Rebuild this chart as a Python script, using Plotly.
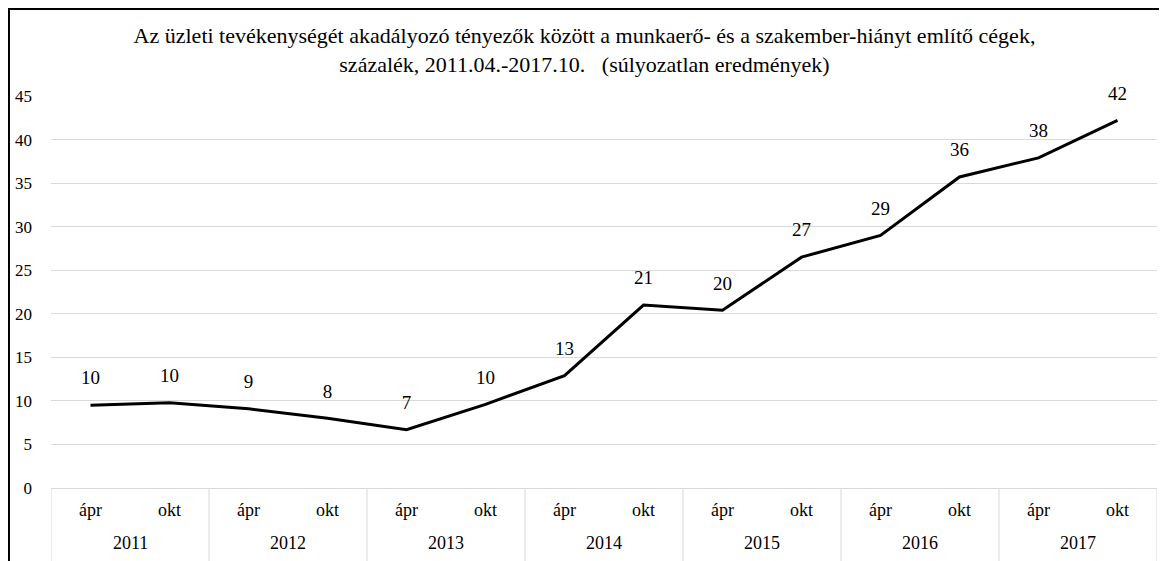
import plotly.graph_objects as go

years = ["2011", "2011", "2012", "2012", "2013", "2013", "2014", "2014",
         "2015", "2015", "2016", "2016", "2017", "2017"]
months = ["ápr", "okt"] * 7
values = [9.5, 9.8, 9.1, 8.0, 6.7, 9.6, 12.9, 21.0, 20.4, 26.5, 29.0, 35.7, 37.9, 42.2]
labels = ["10", "10", "9", "8", "7", "10", "13", "21", "20", "27", "29", "36", "38", "42"]
year_labels = ["2011", "2012", "2013", "2014", "2015", "2016", "2017"]

title_text = ("Az üzleti tevékenységét akadályozó tényezők között a munkaerő- és a szakember-hiányt említő cégek,"
              "<br>százalék, 2011.04.-2017.10.   (súlyozatlan eredmények)")

FONT = "Liberation Serif"

fig = go.Figure()
fig.add_trace(go.Scatter(
    x=[years, months], y=values, mode="lines",
    line=dict(color="black", width=3), hoverinfo="skip", showlegend=False,
))
fig.add_trace(go.Scatter(
    x=[years, months], y=values, mode="markers+text",
    marker=dict(size=24, color="rgba(0,0,0,0)"),
    text=labels, textposition="top center",
    textfont=dict(family=FONT, size=19, color="black"),
    cliponaxis=False, hoverinfo="skip", showlegend=False,
))

annotations = []
for i, m in enumerate(months):
    annotations.append(dict(x=i, xref="x", y=0, yref="paper", yanchor="middle",
                            yshift=-22, text=m, showarrow=False,
                            font=dict(family=FONT, size=18, color="black")))
for k, yl in enumerate(year_labels):
    annotations.append(dict(x=2 * k + 0.5, xref="x", y=0, yref="paper", yanchor="middle",
                            yshift=-55, text=yl, showarrow=False,
                            font=dict(family=FONT, size=18, color="black")))

shapes = [dict(type="rect", xref="paper", yref="paper",
               x0=-0.038, x1=1.2, y0=-0.5, y1=1.222,
               line=dict(color="black", width=2), fillcolor="rgba(0,0,0,0)",
               layer="above")]
# year group dividers below the axis
for k in range(len(year_labels) + 1):
    shapes.append(dict(type="line", xref="x", yref="paper",
                       x0=2 * k - 0.5, x1=2 * k - 0.5, y0=0, y1=-0.2,
                       line=dict(color="#d9d9d9", width=1)))

fig.update_layout(
    width=1167, height=561,
    margin=dict(l=43, r=18, t=88, b=81),
    paper_bgcolor="white", plot_bgcolor="white",
    font=dict(family=FONT, size=18, color="black"),
    title=dict(text=title_text, x=0.494, xref="container", xanchor="center",
               y=0.937, yref="container", yanchor="middle",
               font=dict(family=FONT, size=22, color="black")),
    xaxis=dict(
        type="multicategory", automargin=False,
        showgrid=False, showline=True, linecolor="#d9d9d9", linewidth=1,
        showdividers=False, showticklabels=False,
        ticks="", range=[-0.5, 13.5],
    ),
    yaxis=dict(
        range=[0, 45], dtick=5, showgrid=True, gridcolor="#d9d9d9", gridwidth=1,
        zeroline=False, showline=False, ticks="", automargin=False,
        tickfont=dict(family=FONT, size=17, color="black"),
        ticklabelstandoff=18,
    ),
    annotations=annotations,
    shapes=shapes,
)

fig.write_html("out.html")
